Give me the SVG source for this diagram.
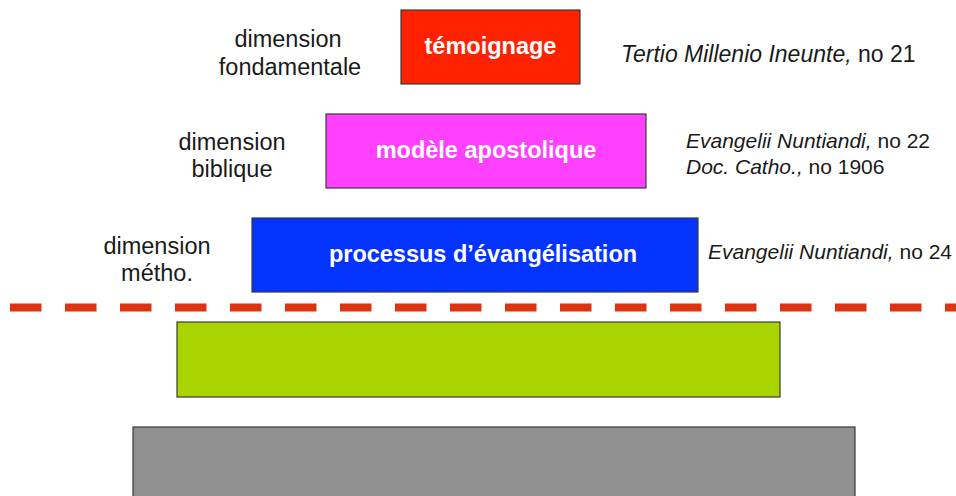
<svg xmlns="http://www.w3.org/2000/svg" width="956" height="496" viewBox="0 0 956 496">
  <style>
    .box { stroke: #3a3a3a; stroke-width: 1.2; }
    .box-label { font-family: "Liberation Sans", Arial, sans-serif; font-size: 23.5px; font-weight: bold; fill: #ffffff; text-anchor: middle; }
    .dim { font-family: "Liberation Sans", Arial, sans-serif; font-size: 23.5px; fill: #1a1a1a; text-anchor: middle; }
    .ref { font-family: "Liberation Sans", Arial, sans-serif; font-size: 23px; fill: #1a1a1a; }
    .ref-sm { font-size: 21px; }
    .it { font-style: italic; }
  </style>
  <rect width="956" height="496" fill="#ffffff"/>

  <g id="temoignage">
    <rect class="box" x="401" y="10" width="179" height="74" fill="#ff2200"/>
    <text class="box-label" x="490.5" y="54">témoignage</text>
  </g>
  <g id="modele-apostolique">
    <rect class="box" x="326" y="114" width="320" height="74" fill="#ff40ff"/>
    <text class="box-label" x="486" y="158">modèle apostolique</text>
  </g>
  <g id="processus">
    <rect class="box" x="252" y="218" width="446" height="74" fill="#0433ff"/>
    <text class="box-label" x="483" y="262">processus d’évangélisation</text>
  </g>
  <g id="niveau-vert">
    <rect class="box" x="177" y="322" width="603" height="75" fill="#aad400"/>
  </g>
  <g id="niveau-gris">
    <rect class="box" x="133" y="427" width="722" height="80" fill="#909090"/>
  </g>

  <g id="separateur">
    <line x1="10" y1="307.5" x2="956" y2="307.5" stroke="#dd3311" stroke-width="8" stroke-dasharray="31.5 23.5"/>
  </g>

  <g id="dimensions">
    <text class="dim" x="288" y="47">dimension</text>
    <text class="dim" x="290" y="75">fondamentale</text>
    <text class="dim" x="232" y="150">dimension</text>
    <text class="dim" x="232" y="177">biblique</text>
    <text class="dim" x="157" y="254">dimension</text>
    <text class="dim" x="157" y="281">métho.</text>
  </g>

  <g id="references">
    <text class="ref" x="621" y="62"><tspan class="it">Tertio Millenio Ineunte,</tspan> no 21</text>
    <text class="ref ref-sm" x="686" y="148"><tspan class="it">Evangelii Nuntiandi,</tspan> no 22</text>
    <text class="ref ref-sm" x="686" y="174"><tspan class="it">Doc. Catho.,</tspan> no 1906</text>
    <text class="ref ref-sm" x="708" y="259"><tspan class="it">Evangelii Nuntiandi,</tspan> no 24</text>
  </g>
</svg>
